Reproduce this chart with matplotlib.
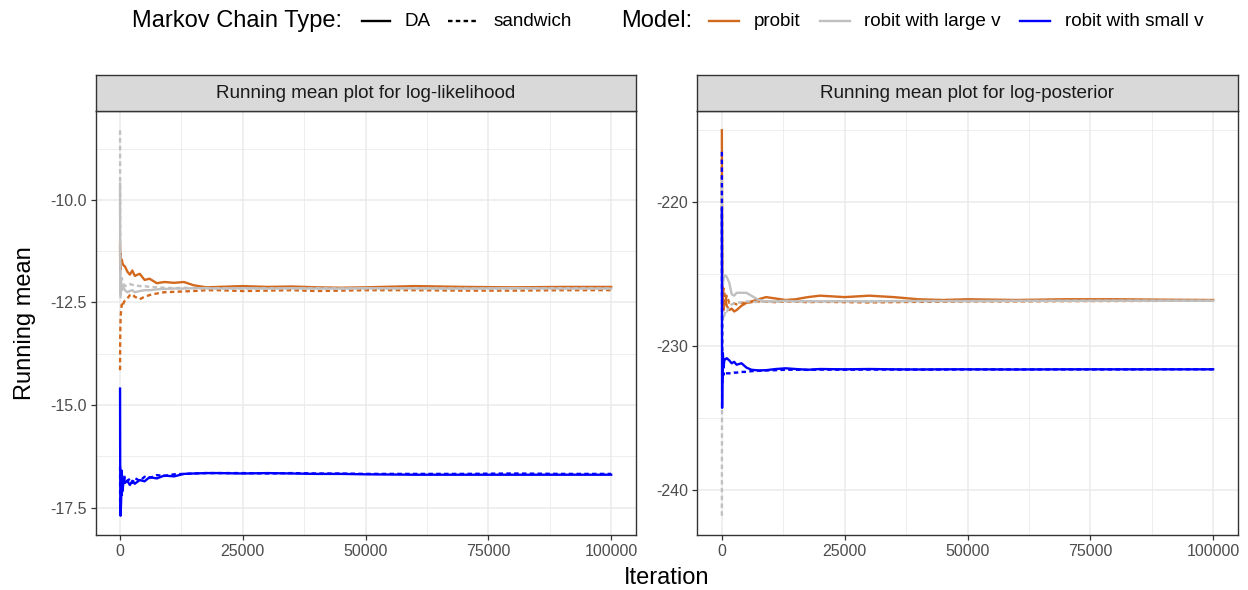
import matplotlib
matplotlib.use("Agg")
import matplotlib.pyplot as plt
from matplotlib.lines import Line2D
import numpy as np

plt.rcParams['font.family'] = ['Liberation Sans', 'DejaVu Sans']

# ---------------- data ----------------
iters = [1, 20, 50, 100, 200, 350, 500, 750, 1000, 1500, 2000, 2500, 3000, 4000,
         5000, 6000, 7500, 9000, 11000, 13000, 15000, 17500, 20000, 25000, 30000,
         35000, 40000, 45000, 50000, 60000, 70000, 80000, 90000, 100000]

panel_titles = ["Running mean plot for log-likelihood", "Running mean plot for log-posterior"]
models = ["probit", "robit with large v", "robit with small v"]
chain_types = ["DA", "sandwich"]

# log-likelihood panel
ll_probit_DA = [-11.1, -11.5, -11.3, -11.7, -11.5, -11.45, -11.55, -11.6, -11.62, -11.75, -11.82, -11.72,
                -11.85, -11.8, -11.95, -11.92, -12.03, -12.0, -12.02, -12.0, -12.08, -12.13, -12.12,
                -12.1, -12.12, -12.11, -12.13, -12.14, -12.13, -12.1, -12.12, -12.13, -12.12, -12.12]
ll_probit_SW = [-14.15, -13.6, -13.2, -12.9, -12.7, -12.55, -12.6, -12.5, -12.45, -12.4, -12.32, -12.3,
                -12.36, -12.42, -12.36, -12.32, -12.28, -12.25, -12.24, -12.23, -12.22, -12.2, -12.2,
                -12.22, -12.21, -12.2, -12.22, -12.21, -12.2, -12.2, -12.21, -12.21, -12.2, -12.2]
ll_large_DA = [-9.6, -11.0, -11.8, -12.3, -12.0, -12.2, -12.1, -12.15, -12.2, -12.25, -12.22, -12.2,
               -12.25, -12.22, -12.2, -12.2, -12.18, -12.17, -12.16, -12.16, -12.15, -12.15, -12.16,
               -12.15, -12.16, -12.15, -12.16, -12.16, -12.15, -12.16, -12.16, -12.15, -12.16, -12.16]
ll_large_SW = [-8.3, -10.5, -11.5, -12.4, -12.0, -11.9, -12.0, -12.05, -12.1, -12.08, -12.05, -12.07,
               -12.08, -12.1, -12.1, -12.12, -12.13, -12.14, -12.15, -12.14, -12.15, -12.16, -12.15,
               -12.16, -12.15, -12.16, -12.15, -12.16, -12.16, -12.15, -12.16, -12.16, -12.15, -12.16]
ll_small_DA = [-14.6, -16.0, -17.2, -17.7, -17.4, -16.6, -17.1, -16.8, -16.9, -16.85, -16.95, -16.85,
               -16.92, -16.83, -16.86, -16.76, -16.79, -16.72, -16.74, -16.68, -16.67, -16.66, -16.66,
               -16.67, -16.66, -16.67, -16.68, -16.68, -16.69, -16.7, -16.7, -16.7, -16.7, -16.7]
ll_small_SW = [-16.5, -17.5, -17.6, -17.3, -16.9, -17.2, -16.7, -16.9, -16.75, -16.85, -16.8, -16.9,
               -16.78, -16.85, -16.75, -16.78, -16.71, -16.73, -16.69, -16.68, -16.67, -16.66, -16.66,
               -16.66, -16.67, -16.66, -16.67, -16.67, -16.68, -16.68, -16.68, -16.67, -16.68, -16.68]

# log-posterior panel
lp_probit_DA = [-215.0, -219.0, -222.0, -224.5, -226.5, -227.5, -227.0, -226.8, -227.2, -227.5, -227.4,
                -227.6, -227.5, -227.2, -227.0, -226.9, -226.75, -226.6, -226.7, -226.8, -226.75, -226.6,
                -226.5, -226.6, -226.5, -226.6, -226.75, -226.8, -226.75, -226.8, -226.75, -226.75,
                -226.78, -226.8]
lp_probit_SW = [-217.0, -221.0, -225.0, -226.0, -226.5, -226.0, -226.3, -226.8, -226.5, -227.0, -227.0,
                -227.05, -227.1, -227.0, -227.0, -226.95, -226.9, -226.92, -226.95, -226.9, -226.92,
                -226.95, -226.93, -226.95, -226.97, -226.95, -226.93, -226.92, -226.9, -226.9, -226.88,
                -226.87, -226.86, -226.85]
lp_large_DA = [-218.5, -222.0, -224.0, -225.5, -225.8, -225.3, -225.1, -225.1, -225.2, -225.6, -226.4,
               -226.5, -226.3, -226.3, -226.3, -226.5, -226.8, -226.9, -226.9, -226.85, -226.9, -226.88,
               -226.9, -226.88, -226.9, -226.88, -226.87, -226.88, -226.87, -226.86, -226.86, -226.85,
               -226.85, -226.85]
lp_large_SW = [-241.8, -236.0, -232.0, -229.0, -228.2, -227.8, -227.9, -227.5, -227.6, -227.3, -227.1,
               -227.05, -227.0, -226.95, -226.9, -226.92, -226.95, -226.9, -226.92, -226.9, -226.88,
               -226.9, -226.88, -226.9, -226.9, -226.88, -226.88, -226.87, -226.88, -226.87, -226.86,
               -226.86, -226.85, -226.85]
lp_small_DA = [-220.5, -228.0, -234.3, -232.0, -230.5, -231.5, -231.0, -230.9, -230.85, -231.0, -231.2,
               -231.1, -231.3, -231.2, -231.5, -231.65, -231.7, -231.68, -231.6, -231.55, -231.6, -231.65,
               -231.6, -231.62, -231.6, -231.62, -231.63, -231.62, -231.62, -231.63, -231.62, -231.62,
               -231.62, -231.62]
lp_small_SW = [-216.5, -225.0, -229.0, -232.5, -231.5, -232.0, -231.8, -231.9, -231.9, -231.9, -231.88,
               -231.85, -231.85, -231.8, -231.8, -231.75, -231.72, -231.7, -231.68, -231.65, -231.65,
               -231.66, -231.64, -231.65, -231.64, -231.64, -231.64, -231.64, -231.63, -231.63, -231.63,
               -231.63, -231.62, -231.62]

x_ticks = [0, 25000, 50000, 75000, 100000]
x_minor = [12500, 37500, 62500, 87500]
ll_yticks = [-10.0, -12.5, -15.0, -17.5]
ll_yticklabels = ["-10.0", "-12.5", "-15.0", "-17.5"]
ll_yminor = [-8.75, -11.25, -13.75, -16.25]
lp_yticks = [-220, -230, -240]
lp_yticklabels = ["-220", "-230", "-240"]
lp_yminor = [-215, -225, -235]

# ---------------- styles ----------------
model_colors = {"probit": "#D2691E", "robit with large v": "#C0C0C0", "robit with small v": "#0000FF"}
chain_styles = {"DA": "-", "sandwich": (0, (1.9, 1.4))}
LW = 1.7

panel_data = [
    {("probit", "DA"): ll_probit_DA, ("probit", "sandwich"): ll_probit_SW,
     ("robit with large v", "DA"): ll_large_DA, ("robit with large v", "sandwich"): ll_large_SW,
     ("robit with small v", "DA"): ll_small_DA, ("robit with small v", "sandwich"): ll_small_SW},
    {("probit", "DA"): lp_probit_DA, ("probit", "sandwich"): lp_probit_SW,
     ("robit with large v", "DA"): lp_large_DA, ("robit with large v", "sandwich"): lp_large_SW,
     ("robit with small v", "DA"): lp_small_DA, ("robit with small v", "sandwich"): lp_small_SW},
]
panel_ticks = [(ll_yticks, ll_yticklabels, ll_yminor), (lp_yticks, lp_yticklabels, lp_yminor)]

W, H = 1248, 590
fig = plt.figure(figsize=(W / 100, H / 100), dpi=100)

panel_px = [(95.5, 635.7), (697.3, 1237.7)]
top_px, bot_px, strip_top_px = 111, 535, 75
TITLE_FS = 17
LABEL_FS = 13.6

for i, (x0, x1) in enumerate(panel_px):
    ax = fig.add_axes([x0 / W, 1 - bot_px / H, (x1 - x0) / W, (bot_px - top_px) / H])
    allv = []
    for m in models:
        for c in chain_types:
            vals = panel_data[i][(m, c)]
            allv += vals
            ax.plot(iters, vals, color=model_colors[m], linestyle=chain_styles[c], lw=LW,
                    solid_joinstyle="round", zorder=3)
    lo, hi = min(allv), max(allv)
    pad = 0.05 * (hi - lo)
    ax.set_ylim(lo - pad, hi + pad)
    ax.set_xlim(-5000, 105000)
    yt, ytl, ym = panel_ticks[i]
    ax.set_xticks(x_ticks)
    ax.set_xticklabels([str(v) for v in x_ticks])
    ax.set_xticks(x_minor, minor=True)
    ax.set_yticks(yt)
    ax.set_yticklabels(ytl)
    ax.set_yticks(ym, minor=True)
    ax.grid(True, which="major", color="#EBEBEB", lw=1.1, zorder=0)
    ax.grid(True, which="minor", color="#EBEBEB", lw=0.6, zorder=0)
    ax.set_axisbelow(True)
    for s in ax.spines.values():
        s.set_color("#333333")
        s.set_linewidth(1.0)
    ax.tick_params(which="major", length=3.5, width=0.9, color="#333333", labelcolor="#4D4D4D",
                   labelsize=11.5, pad=3)
    ax.tick_params(which="minor", length=0)

    # strip
    sax = fig.add_axes([x0 / W, 1 - top_px / H, (x1 - x0) / W, (top_px - strip_top_px) / H])
    sax.set_xlim(0, 1); sax.set_ylim(0, 1)
    sax.set_xticks([]); sax.set_yticks([])
    sax.set_facecolor("#D9D9D9")
    for s in sax.spines.values():
        s.set_color("#333333")
        s.set_linewidth(1.0)
    sax.text(0.5, 0.5, panel_titles[i], ha="center", va="center", fontsize=LABEL_FS, color="#1A1A1A")

# axis titles
fig.text((95.5 + 1237.7) / 2 / W, 1 - 578 / H, "Iteration", ha="center", va="center", fontsize=TITLE_FS)
fig.text(25 / W, 1 - 323 / H, "Running mean", ha="center", va="center", rotation=90, fontsize=TITLE_FS)

# legend (top)
ly = 1 - 21 / H
def key(xa, xb, color, ls):
    fig.add_artist(Line2D([xa / W, xb / W], [ly, ly], transform=fig.transFigure,
                          color=color, linestyle=ls, lw=LW))

fig.text(132 / W, ly, "Markov Chain Type:", ha="left", va="center", fontsize=TITLE_FS)
key(362, 390, "black", chain_styles["DA"])
fig.text(405 / W, ly, "DA", ha="left", va="center", fontsize=LABEL_FS)
key(448, 478, "black", chain_styles["sandwich"])
fig.text(494 / W, ly, "sandwich", ha="left", va="center", fontsize=LABEL_FS)
fig.text(621 / W, ly, "Model:", ha="left", va="center", fontsize=TITLE_FS)
kx = [(709, 739, 754), (820, 850, 864), (1020, 1050, 1065)]
for m, (a, b, t) in zip(models, kx):
    key(a, b, model_colors[m], "-")
    fig.text(t / W, ly, m, ha="left", va="center", fontsize=LABEL_FS)

fig.savefig("out.png", dpi=100, facecolor="white")
